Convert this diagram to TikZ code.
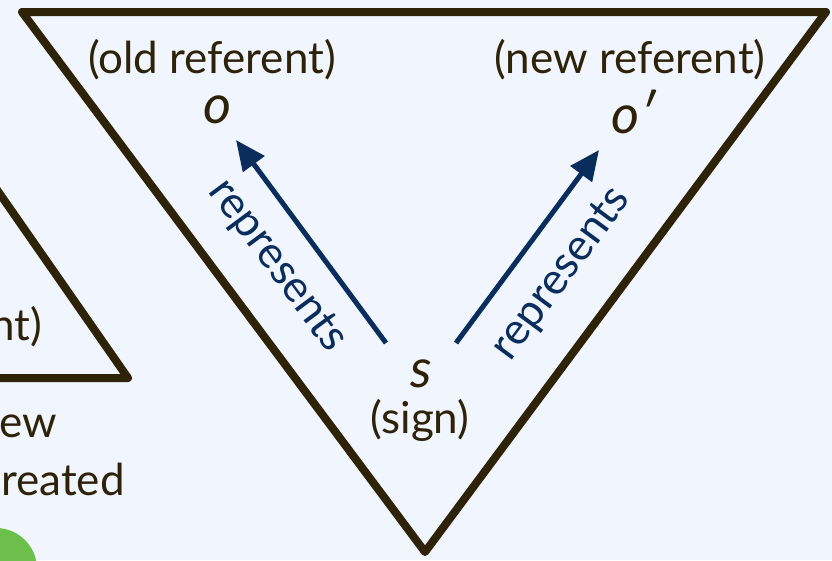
\documentclass[tikz,border=0pt]{standalone}
\usepackage{fontspec}
\setmainfont{Lato}
\usetikzlibrary{arrows.meta}
\definecolor{bg}{HTML}{F0F5FE}
\definecolor{ink}{HTML}{2E2208}
\definecolor{navy}{HTML}{0A2D5C}
\definecolor{leaf}{HTML}{6CBF4A}
\begin{document}
\begin{tikzpicture}[x=1pt,y=-1pt,
  frame/.style={draw=ink,line width=8pt,line join=round},
  lbl/.style={text=ink,font=\fontsize{44}{50}\selectfont,inner sep=0pt},
  sym/.style={text=ink,font=\fontsize{54}{60}\selectfont\itshape,inner sep=0pt},
  rel/.style={navy,line width=5pt,-{Triangle[length=30pt,width=26pt]}},
  rellbl/.style={text=navy,font=\fontsize{44}{50}\selectfont,inner sep=0pt}]
\useasboundingbox (0,0) rectangle (832,560);
\clip (0,0) rectangle (832,560);
\fill[bg] (0,0) rectangle (832,560);
% left partial triangle and green circle
\draw[frame] (-140,-7) -- (128,378) -- (-300,378);
\fill[leaf] (-4,569) circle (41);
\node[lbl,anchor=base east] (lt1) at (42,340) {referent)};
\node[lbl,anchor=base east] (lt2) at (57,437) {new};
\node[lbl,anchor=base east] (lt3) at (125,495) {created};
% main triangle
\draw[frame] (22,12) -- (826,12) -- (425,552) -- cycle;
\node[lbl] (oldr) at (212,60) {(old referent)};
\node[lbl] (newr) at (630,60) {(new referent)};
\node[sym] (o) at (218,110) {o};
\node[sym] (o2) at (634,112) {o′};
\node[sym] (s) at (421,374) {s};
\node[lbl] (sign) at (420,420) {(sign)};
\coordinate (a1) at (386,343);
\coordinate (b1) at (236,140);
\coordinate (a2) at (456,343);
\coordinate (b2) at (599,150);
\draw[rel] (a1) -- (b1);
\draw[rel] (a2) -- (b2);
\node[rellbl,rotate=-53.5] (r1) at (277,266) {represents};
\node[rellbl,rotate=53.5] (r2) at (562,274) {represents};
\end{tikzpicture}
\end{document}
